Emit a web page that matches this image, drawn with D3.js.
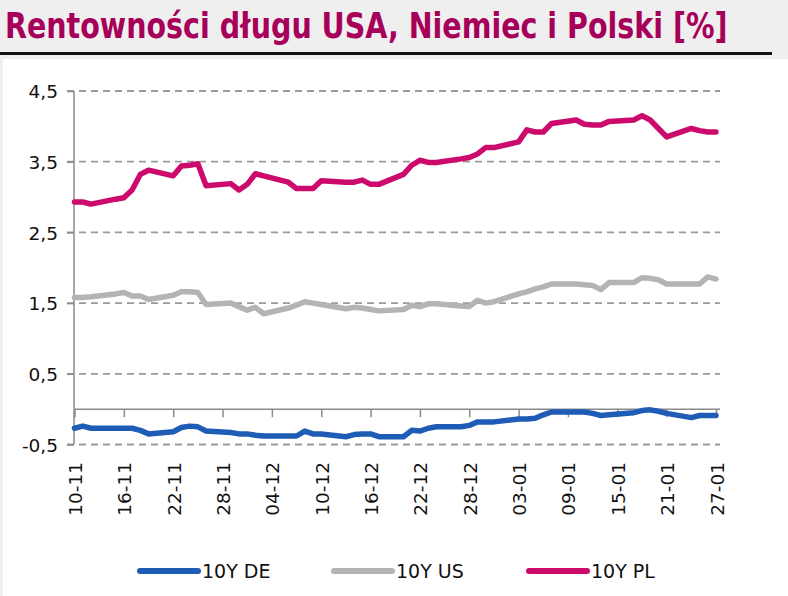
<!DOCTYPE html>
<html>
<head>
<meta charset="utf-8">
<script src="https://cdn.jsdelivr.net/npm/d3@7"></script>
<style>
  html, body { margin: 0; padding: 0; background: #efefef; }
  svg { display: block; }
</style>
</head>
<body>
<svg id="chart" width="788" height="596"></svg>
<script>
// ---------- DATA ----------
const dates = [
  "2021-11-10","2021-11-11","2021-11-12","2021-11-15","2021-11-16","2021-11-17","2021-11-18","2021-11-19",
  "2021-11-22","2021-11-23","2021-11-24","2021-11-25","2021-11-26","2021-11-29","2021-11-30",
  "2021-12-01","2021-12-02","2021-12-03","2021-12-06","2021-12-07","2021-12-08","2021-12-09","2021-12-10",
  "2021-12-13","2021-12-14","2021-12-15","2021-12-16","2021-12-17","2021-12-20","2021-12-21","2021-12-22",
  "2021-12-23","2021-12-24","2021-12-27","2021-12-28","2021-12-29","2021-12-30","2021-12-31",
  "2022-01-03","2022-01-04","2022-01-05","2022-01-06","2022-01-07","2022-01-10","2022-01-11","2022-01-12",
  "2022-01-13","2022-01-14","2022-01-17","2022-01-18","2022-01-19","2022-01-20","2022-01-21",
  "2022-01-24","2022-01-25","2022-01-26","2022-01-27"
];
const de10y = [
  -0.27,-0.24,-0.27,-0.27,-0.27,-0.27,-0.30,-0.35,
  -0.32,-0.26,-0.24,-0.25,-0.31,-0.33,-0.35,
  -0.35,-0.37,-0.38,-0.38,-0.38,-0.31,-0.35,-0.35,
  -0.39,-0.36,-0.35,-0.35,-0.39,-0.39,-0.30,-0.31,
  -0.27,-0.25,-0.25,-0.23,-0.18,-0.18,-0.18,
  -0.14,-0.14,-0.13,-0.08,-0.04,-0.04,-0.04,-0.06,
  -0.09,-0.08,-0.05,-0.02,-0.01,-0.03,-0.06,
  -0.12,-0.09,-0.09,-0.09
];
const us10y = [
  1.58,1.58,1.59,1.63,1.65,1.60,1.60,1.55,
  1.61,1.66,1.66,1.65,1.48,1.50,1.45,
  1.40,1.44,1.35,1.43,1.47,1.52,1.50,1.48,
  1.42,1.44,1.43,1.41,1.39,1.41,1.47,1.45,
  1.49,1.49,1.46,1.45,1.54,1.50,1.52,
  1.63,1.66,1.70,1.73,1.77,1.77,1.76,1.75,
  1.69,1.79,1.79,1.86,1.85,1.83,1.77,
  1.77,1.77,1.87,1.84
];
const pl10y = [
  2.93,2.93,2.90,2.97,2.99,3.10,3.32,3.38,
  3.30,3.44,3.45,3.47,3.16,3.19,3.10,
  3.18,3.33,3.30,3.21,3.12,3.12,3.12,3.23,
  3.21,3.21,3.24,3.18,3.18,3.32,3.45,3.52,
  3.49,3.49,3.54,3.56,3.61,3.70,3.70,
  3.78,3.95,3.92,3.92,4.04,4.09,4.03,4.02,
  4.02,4.07,4.09,4.15,4.09,3.97,3.85,
  3.97,3.94,3.92,3.92
];
const seriesNames = ["10Y DE", "10Y US", "10Y PL"];
const xTickDates = [
  "2021-11-10","2021-11-16","2021-11-22","2021-11-28","2021-12-04","2021-12-10","2021-12-16",
  "2021-12-22","2021-12-28","2022-01-03","2022-01-09","2022-01-15","2022-01-21","2022-01-27"
];
const yTicks = [-0.5, 0.5, 1.5, 2.5, 3.5, 4.5];
const titleText = "Rentowności długu USA, Niemiec i Polski [%]";

// ---------- STYLE ----------
const colors = ["#1f5cb6", "#b4b4b4", "#cc0a6c"];
const titleColor = "#a6005a";
const labelFont = "DejaVu Sans, Liberation Sans, sans-serif";

const svg = d3.select("#chart");
const parse = d3.utcParse("%Y-%m-%d");
const fmtDate = d3.utcFormat("%d-%m");
const locale = d3.formatLocale({decimal: ",", thousands: " ", grouping: [3], currency: ["", ""], minus: "-"});
const fmtY = locale.format(".1f");

// background
svg.append("rect").attr("x", 0).attr("y", 0).attr("width", 788).attr("height", 596).attr("fill", "#efefef");
svg.append("rect").attr("x", 3).attr("y", 59).attr("width", 785).attr("height", 537).attr("fill", "#ffffff");

// title (horizontally scaled to the reference width)
const titleG = svg.append("g");
const title = titleG.append("text")
  .attr("x", 0).attr("y", 0)
  .attr("font-family", "DejaVu Sans Condensed, DejaVu Sans, sans-serif")
  .attr("font-stretch", "condensed")
  .attr("font-weight", "bold")
  .attr("font-size", 36)
  .attr("fill", titleColor)
  .text(titleText);
const natW = title.node().getComputedTextLength();
const sx = Math.min(1, 723 / natW);
titleG.attr("transform", `translate(5,38) scale(${sx},1)`);
svg.append("line").attr("x1", 0).attr("x2", 772).attr("y1", 53.5).attr("y2", 53.5)
  .attr("stroke", "#111").attr("stroke-width", 3);

// scales
const x = d3.scaleUtc()
  .domain([parse(dates[0]), parse(dates[dates.length - 1])])
  .range([74.5, 716]);
const y = d3.scaleLinear().domain([-0.5, 4.5]).range([444.5, 91]);

const plotLeft = 74, plotRight = 720;

// gridlines
svg.append("g").selectAll("line").data(yTicks).join("line")
  .attr("x1", 67).attr("x2", plotRight)
  .attr("y1", d => y(d)).attr("y2", d => y(d))
  .attr("stroke", "#9a9a9a").attr("stroke-width", 1.8)
  .attr("stroke-dasharray", "7,5");

// y axis
const yAxis = svg.append("g").attr("transform", `translate(${plotLeft},0)`)
  .call(d3.axisLeft(y).tickValues(yTicks).tickFormat(fmtY).tickSize(7).tickPadding(9));
yAxis.select(".domain").remove();
yAxis.selectAll(".tick line").attr("stroke", "#8a8a8a").attr("stroke-width", 1.5);
yAxis.selectAll(".tick text").attr("font-family", labelFont).attr("font-size", 18.5).attr("fill", "#111")
  .attr("dy", "0.36em");
svg.append("line").attr("x1", plotLeft).attr("x2", plotLeft).attr("y1", y(4.5)).attr("y2", y(-0.5))
  .attr("stroke", "#8a8a8a").attr("stroke-width", 1.5);

// x axis at zero
const tickDates = xTickDates.map(parse);
const xAxis = svg.append("g").attr("transform", `translate(0,${y(0)})`)
  .call(d3.axisBottom(x).tickValues(tickDates).tickSize(8).tickFormat(""));
xAxis.select(".domain").remove();
xAxis.selectAll(".tick line").attr("stroke", "#8a8a8a").attr("stroke-width", 1.5);
svg.append("line").attr("x1", plotLeft).attr("x2", plotRight).attr("y1", y(0)).attr("y2", y(0))
  .attr("stroke", "#8a8a8a").attr("stroke-width", 1.5);

// x labels (rotated) at bottom
svg.append("g").selectAll("text").data(tickDates).join("text")
  .attr("transform", d => `translate(${x(d) + 1},462) rotate(-90)`)
  .attr("text-anchor", "end")
  .attr("dominant-baseline", "central")
  .attr("font-family", labelFont).attr("font-size", 18.5).attr("fill", "#111")
  .text(d => fmtDate(d));

// lines
const series = [de10y, us10y, pl10y];
const line = d3.line().x((d, i) => x(parse(dates[i]))).y(d => y(d));
svg.append("g").selectAll("path").data(series).join("path")
  .attr("d", d => line(d))
  .attr("fill", "none")
  .attr("stroke", (d, i) => colors[i])
  .attr("stroke-width", 5.5)
  .attr("stroke-linejoin", "round")
  .attr("stroke-linecap", "round");

// legend
const legendX = [140, 334, 529];
const lg = svg.append("g").selectAll("g").data(seriesNames).join("g")
  .attr("transform", (d, i) => `translate(${legendX[i]},571)`);
lg.append("line").attr("x1", 0).attr("x2", 58).attr("y1", 0).attr("y2", 0)
  .attr("stroke", (d, i) => colors[i]).attr("stroke-width", 6).attr("stroke-linecap", "round");
lg.append("text").attr("x", 62).attr("y", 0).attr("dy", "0.36em")
  .attr("font-family", labelFont).attr("font-size", 19).attr("fill", "#111")
  .text(d => d);
</script>
</body>
</html>
